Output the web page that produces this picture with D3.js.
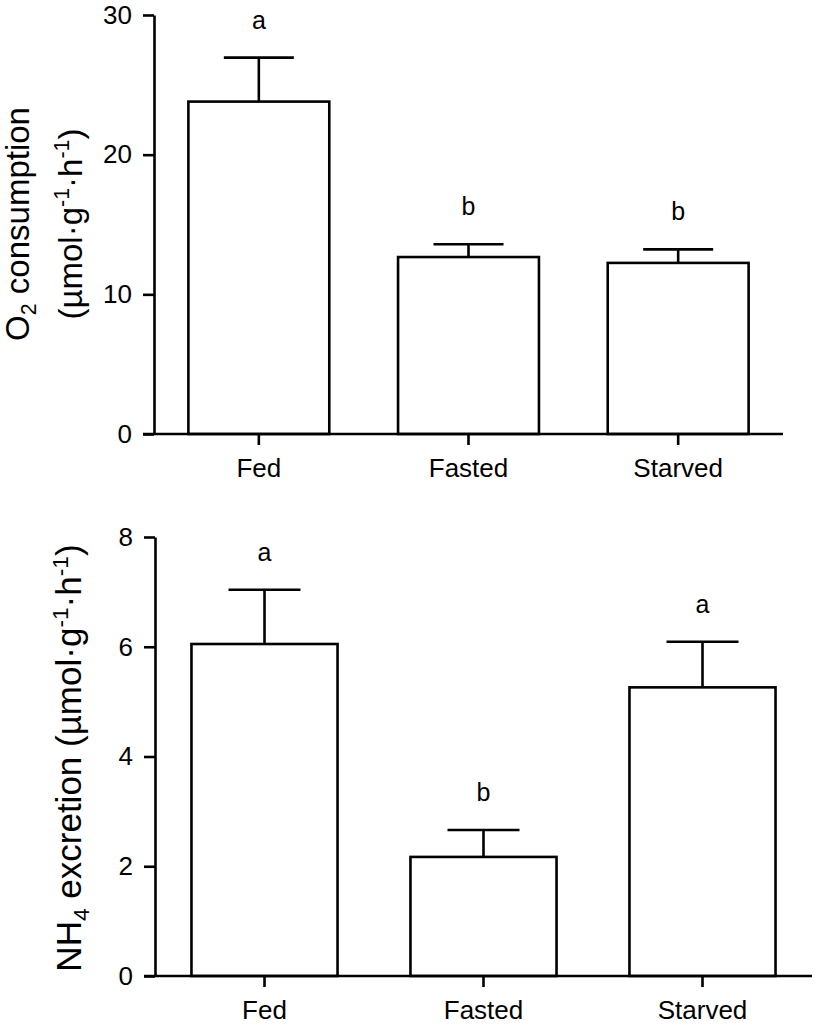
<!DOCTYPE html>
<html><head><meta charset="utf-8">
<script src="https://cdn.jsdelivr.net/npm/d3@7"></script>
<style>body{margin:0;background:#fff}svg{display:block}text{font-family:"Liberation Sans",Arial,sans-serif;fill:#000}</style>
</head><body>
<svg id="c" width="816" height="1028"></svg>
<script>
const categories = ["Fed", "Fasted", "Starved"];
const o2Values = [23.8, 12.67, 12.25];
const o2Errors = [3.15, 0.92, 0.97];
const o2Letters = ["a", "b", "b"];
const o2Ticks = [0, 10, 20, 30];
const nh4Values = [6.05, 2.17, 5.26];
const nh4Errors = [0.99, 0.49, 0.83];
const nh4Letters = ["a", "b", "a"];
const nh4Ticks = [0, 2, 4, 6, 8];

const svg = d3.select("#c");
const SW = 2.6;

function panel(cfg) {
  const g = svg.append("g");
  const x = d3.scaleBand().domain(categories).range([cfg.x0, cfg.x1])
    .paddingInner(cfg.pi).paddingOuter(cfg.pi / 2);
  const y = d3.scaleLinear().domain([0, cfg.max]).range([cfg.y0, cfg.y1]);

  g.selectAll("rect.bar").data(categories).join("rect")
    .attr("x", d => x(d)).attr("width", x.bandwidth())
    .attr("y", (d, i) => y(cfg.values[i]))
    .attr("height", (d, i) => y(0) - y(cfg.values[i]))
    .attr("fill", "#fff").attr("stroke", "#000").attr("stroke-width", SW);

  const cx = d => x(d) + x.bandwidth() / 2;
  g.selectAll("line.err").data(categories).join("line")
    .attr("x1", cx).attr("x2", cx)
    .attr("y1", (d, i) => y(cfg.values[i]))
    .attr("y2", (d, i) => y(cfg.values[i] + cfg.errors[i]))
    .attr("stroke", "#000").attr("stroke-width", SW);
  g.selectAll("line.cap").data(categories).join("line")
    .attr("x1", d => cx(d) - cfg.cap / 2).attr("x2", d => cx(d) + cfg.cap / 2)
    .attr("y1", (d, i) => y(cfg.values[i] + cfg.errors[i]))
    .attr("y2", (d, i) => y(cfg.values[i] + cfg.errors[i]))
    .attr("stroke", "#000").attr("stroke-width", SW);

  g.selectAll("text.let").data(categories).join("text")
    .attr("x", cx).attr("y", (d, i) => y(cfg.values[i] + cfg.errors[i]) - 29)
    .attr("text-anchor", "middle").attr("font-size", 25)
    .text((d, i) => cfg.letters[i]);

  const ya = g.append("g").attr("transform", `translate(${cfg.x0},0)`)
    .call(d3.axisLeft(y).tickValues(cfg.ticks).tickSize(11).tickPadding(11).tickSizeOuter(0));
  ya.select(".domain").attr("stroke-width", SW);
  ya.selectAll(".tick line").attr("stroke-width", SW);
  ya.selectAll(".tick text").attr("font-size", 26).attr("font-family", '"Liberation Sans",Arial,sans-serif');

  const xa = g.append("g").attr("transform", `translate(0,${cfg.y0})`)
    .call(d3.axisBottom(x).tickSize(11).tickPadding(13.5).tickSizeOuter(0));
  xa.select(".domain").remove();
  xa.append("line").attr("x1", cfg.x0 - 11).attr("x2", cfg.x1).attr("y1", 0).attr("y2", 0)
    .attr("stroke", "#000").attr("stroke-width", SW);
  xa.selectAll(".tick line").attr("stroke-width", SW);
  xa.selectAll(".tick text").attr("font-size", 26).attr("font-family", '"Liberation Sans",Arial,sans-serif');

  return {x, y};
}

function unitSpans(t, fs) {
  t.append("tspan").text("(µmol·g");
  t.append("tspan").attr("font-size", fs * 0.65).attr("dy", -fs * 0.38).text("-1");
  t.append("tspan").attr("dy", fs * 0.38).text("·h");
  t.append("tspan").attr("font-size", fs * 0.65).attr("dy", -fs * 0.38).text("-1");
  t.append("tspan").attr("dy", fs * 0.38).text(")");
}

panel({x0: 154, x1: 783, y0: 434, y1: 15, max: 30, pi: 0.328, cap: 70,
  values: o2Values, errors: o2Errors, letters: o2Letters, ticks: o2Ticks});
{
  const fs = 33, cy = 224;
  const t1 = svg.append("text").attr("transform", `translate(29,${cy}) rotate(-90)`)
    .attr("text-anchor", "middle").attr("font-size", fs);
  t1.append("tspan").text("O");
  t1.append("tspan").attr("font-size", fs * 0.65).attr("dy", fs * 0.22).text("2");
  t1.append("tspan").attr("dy", -fs * 0.22).text(" consumption");
  const t2 = svg.append("text").attr("transform", `translate(82,${cy}) rotate(-90)`)
    .attr("text-anchor", "middle").attr("font-size", fs);
  unitSpans(t2, fs);
}

panel({x0: 155, x1: 812, y0: 976, y1: 537, max: 8, pi: 0.333, cap: 72,
  values: nh4Values, errors: nh4Errors, letters: nh4Letters, ticks: nh4Ticks});
{
  const fs = 35, cy = 758;
  const t = svg.append("text").attr("transform", `translate(81,${cy}) rotate(-90)`)
    .attr("text-anchor", "middle").attr("font-size", fs);
  t.append("tspan").text("NH");
  t.append("tspan").attr("font-size", fs * 0.65).attr("dy", fs * 0.22).text("4");
  t.append("tspan").attr("dy", -fs * 0.22).text(" excretion ");
  unitSpans(t, fs);
}
</script>
</body></html>
